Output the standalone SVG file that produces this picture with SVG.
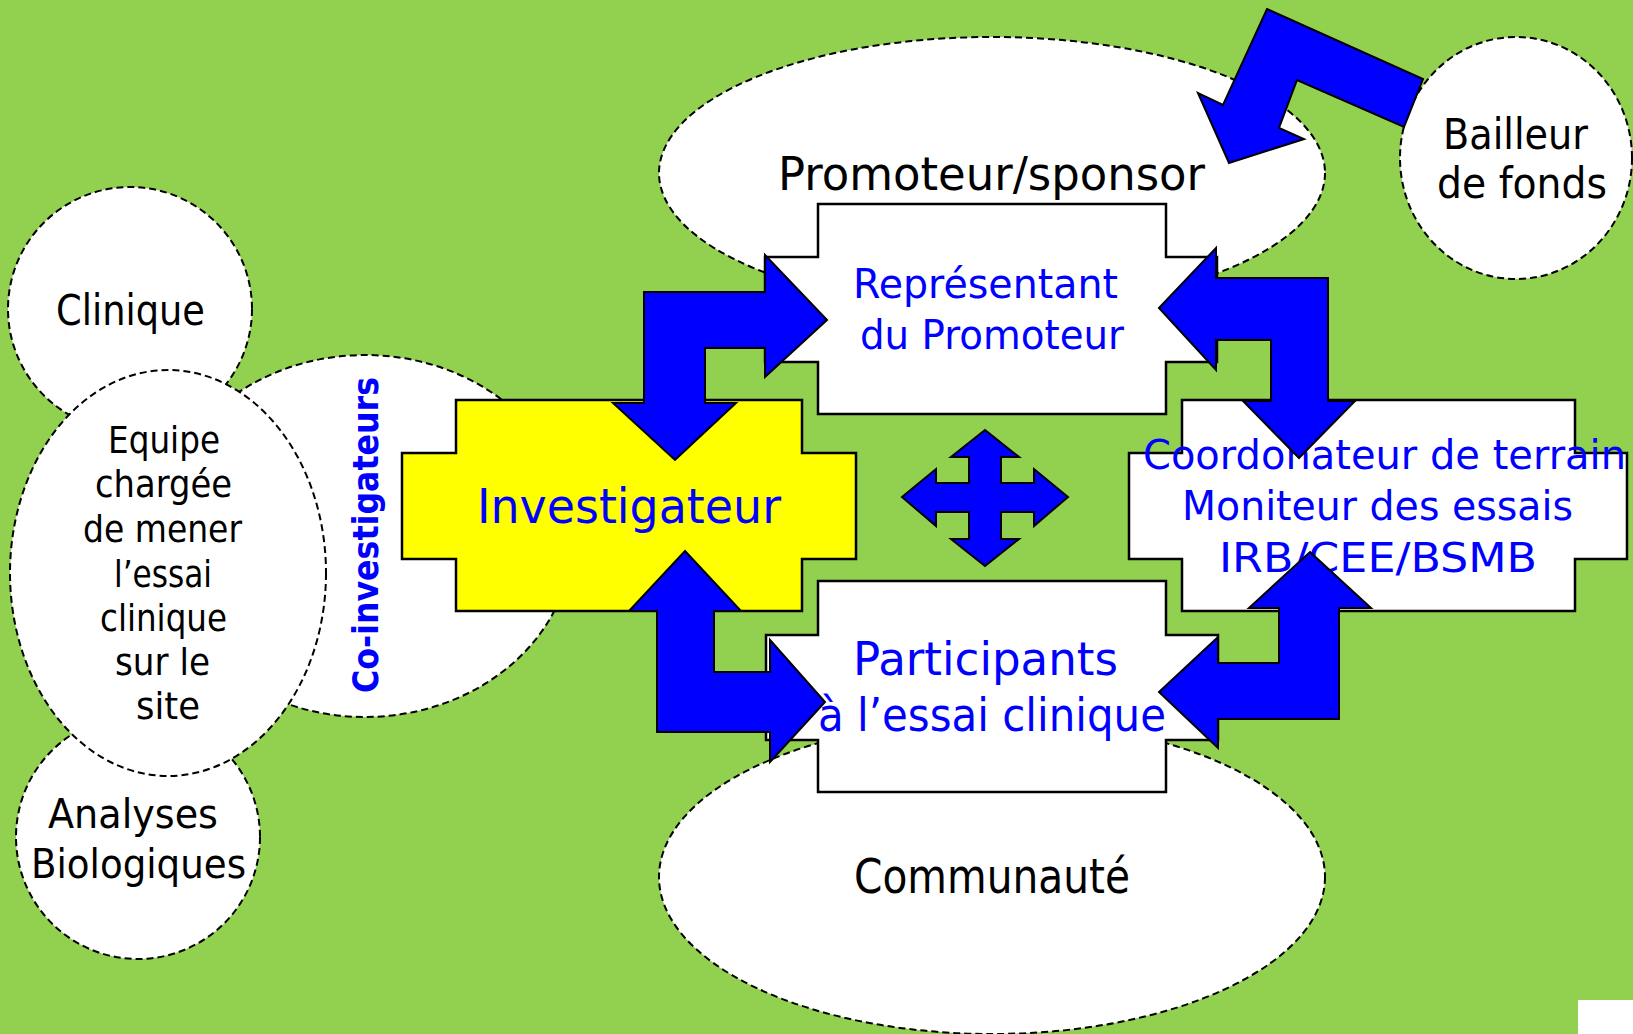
<svg xmlns="http://www.w3.org/2000/svg" width="1633" height="1034" viewBox="0 0 1633 1034">
<style>
.bg{fill:#92D050}
.cloud{fill:#fff;stroke:#000;stroke-width:2;stroke-dasharray:7 4}
.box{fill:#fff;stroke:#000;stroke-width:2.5}
.inv{fill:#FFFF00;stroke:#000;stroke-width:2.5}
.arr{fill:#0000FF;stroke:#000;stroke-width:2;stroke-linejoin:miter}
.t{font-family:"DejaVu Sans","Liberation Sans",sans-serif;lengthAdjust:spacingAndGlyphs}
.blk{fill:#000}
.blu{fill:#0000FF}
</style>
<rect class="bg" x="0" y="0" width="1633" height="1034"/>
<rect x="1578" y="1000" width="55" height="34" fill="#fff"/>

<g id="clinique">
<circle class="cloud" cx="130" cy="309" r="122"/>
<text class="t blk" x="56" y="325" font-size="42" textLength="149" lengthAdjust="spacingAndGlyphs">Clinique</text>
</g>
<g id="analyses">
<ellipse class="cloud" cx="138" cy="837" rx="122" ry="122"/>
<text class="t blk" x="48" y="828" font-size="41" textLength="170" lengthAdjust="spacingAndGlyphs">Analyses</text>
<text class="t blk" x="31" y="878" font-size="41" textLength="215" lengthAdjust="spacingAndGlyphs">Biologiques</text>
</g>
<g id="co-investigateurs">
<ellipse class="cloud" cx="365" cy="536" rx="208" ry="181"/>
<text class="t blu" transform="translate(378,693) rotate(-90)" x="0" y="0" font-size="35" font-weight="bold" textLength="316" lengthAdjust="spacingAndGlyphs">Co-investigateurs</text>
</g>
<g id="equipe">
<ellipse class="cloud" cx="168" cy="573" rx="158" ry="203"/>
<text class="t blk" x="108" y="453" font-size="38" textLength="112" lengthAdjust="spacingAndGlyphs">Equipe</text>
<text class="t blk" x="95" y="497" font-size="38" textLength="137" lengthAdjust="spacingAndGlyphs">chargée</text>
<text class="t blk" x="83" y="542" font-size="38" textLength="159" lengthAdjust="spacingAndGlyphs">de mener</text>
<text class="t blk" x="114" y="587" font-size="38" textLength="98" lengthAdjust="spacingAndGlyphs">l’essai</text>
<text class="t blk" x="100" y="631" font-size="38" textLength="127" lengthAdjust="spacingAndGlyphs">clinique</text>
<text class="t blk" x="115" y="675" font-size="38" textLength="95" lengthAdjust="spacingAndGlyphs">sur le</text>
<text class="t blk" x="136" y="719" font-size="38" textLength="64" lengthAdjust="spacingAndGlyphs">site</text>
</g>

<g id="promoteur">
<ellipse class="cloud" cx="992" cy="173" rx="333" ry="136"/>
<text class="t blk" x="778" y="190" font-size="46" textLength="427" lengthAdjust="spacingAndGlyphs">Promoteur/sponsor</text>
</g>
<g id="bailleur">
<ellipse class="cloud" cx="1516" cy="158" rx="116" ry="121"/>
<text class="t blk" x="1443" y="149" font-size="42" textLength="145" lengthAdjust="spacingAndGlyphs">Bailleur</text>
<text class="t blk" x="1437" y="198" font-size="42" textLength="170" lengthAdjust="spacingAndGlyphs">de fonds</text>
</g>
<g id="communaute">
<ellipse class="cloud" cx="992" cy="877" rx="333" ry="157"/>
<text class="t blk" x="854" y="893" font-size="48" textLength="276" lengthAdjust="spacingAndGlyphs">Communauté</text>
</g>

<g id="representant">
<polygon class="box" points="818,204 1166,204 1166,257 1217,257 1217,362 1166,362 1166,414 818,414 818,362 765,362 765,257 818,257"/>
<text class="t blu" x="853" y="298" font-size="41" textLength="265" lengthAdjust="spacingAndGlyphs">Représentant</text>
<text class="t blu" x="860" y="349" font-size="41" textLength="264" lengthAdjust="spacingAndGlyphs">du Promoteur</text>
</g>
<g id="investigateur">
<polygon class="inv" points="456,400 802,400 802,453 856,453 856,559 802,559 802,611 456,611 456,559 402,559 402,453 456,453"/>
<text class="t blu" x="477" y="523" font-size="48" textLength="304" lengthAdjust="spacingAndGlyphs">Investigateur</text>
</g>
<g id="coordonateur">
<polygon class="box" points="1182,400 1575,400 1575,453 1627,453 1627,559 1575,559 1575,611 1182,611 1182,559 1129,559 1129,453 1182,453"/>
<text class="t blu" x="1143" y="469" font-size="41" textLength="483" lengthAdjust="spacingAndGlyphs">Coordonateur de terrain</text>
<text class="t blu" x="1182" y="520" font-size="41" textLength="391" lengthAdjust="spacingAndGlyphs">Moniteur des essais</text>
<text class="t blu" x="1219" y="572" font-size="41" textLength="318" lengthAdjust="spacingAndGlyphs">IRB/CEE/BSMB</text>
</g>
<g id="participants">
<polygon class="box" points="818,581 1166,581 1166,635 1218,635 1218,740 1166,740 1166,792 818,792 818,740 766,740 766,635 818,635"/>
<text class="t blu" x="853" y="675" font-size="46" textLength="265" lengthAdjust="spacingAndGlyphs">Participants</text>
<text class="t blu" x="818" y="731" font-size="46" textLength="348" lengthAdjust="spacingAndGlyphs">à l’essai clinique</text>
</g>

<g id="connectors">
<polygon class="arr" points="827,320 765,377 765,348 705,348 705,403 736,403 675,460 613,403 644,403 644,292 765,292 765,255"/>
<polygon class="arr" points="1159,308 1216,248 1216,278 1328,278 1328,401 1355,401 1299,458 1243,401 1271,401 1271,340 1216,340 1216,370"/>
<polygon class="arr" points="685,551 741,611 714,611 714,672 770,672 770,640 825,702 770,762 770,732 657,732 657,611 629,611"/>
<polygon class="arr" points="1310,552 1371,608 1339,608 1339,719 1218,719 1218,748 1159,692 1218,637 1218,663 1279,663 1279,608 1249,608"/>
<polygon class="arr" points="1267,9 1423,79 1404,127 1297,80 1279,128 1304,139 1229,163 1198,93 1223,105"/>
<polygon class="arr" points="985,430 1019,457 1001,457 1001,483 1034,483 1034,469 1068,497 1034,526 1034,512 1001,512 1001,539 1019,539 985,566 951,539 969,539 969,512 936,512 936,526 902,497 936,469 936,483 969,483 969,457 951,457"/>
</g>
</svg>
